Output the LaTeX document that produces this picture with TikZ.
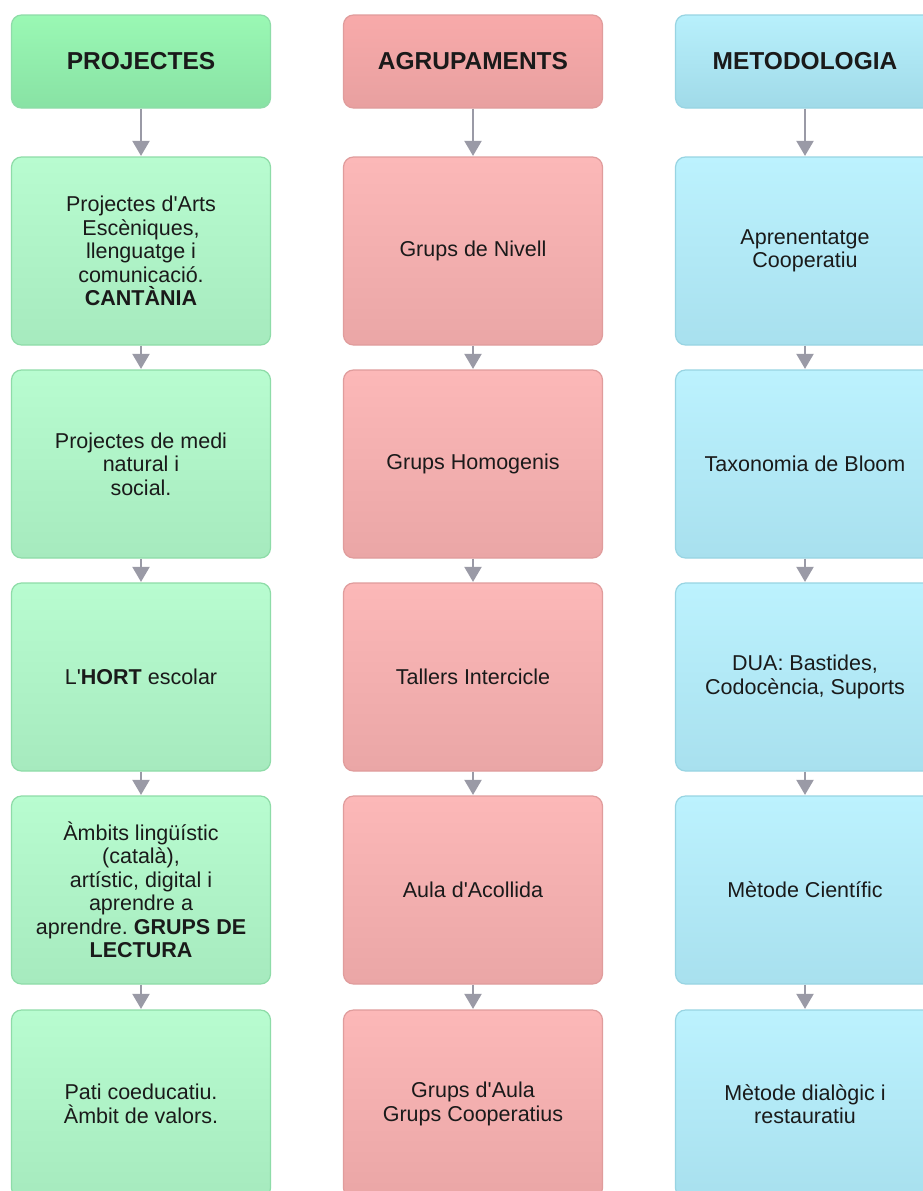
\documentclass[tikz,border=0pt]{standalone}
\usepackage{fontspec}
\newfontfamily\mainf{Liberation Sans}
\usetikzlibrary{arrows.meta}
\frenchspacing
\definecolor{gH1}{HTML}{9AF8B4}\definecolor{gH2}{HTML}{88E2A4}
\definecolor{gB1}{HTML}{B8FCD0}\definecolor{gB2}{HTML}{A6EABE}
\definecolor{gD}{HTML}{8EDCA8}
\definecolor{rH1}{HTML}{F8AAAA}\definecolor{rH2}{HTML}{E8A0A0}
\definecolor{rB1}{HTML}{FCB8B8}\definecolor{rB2}{HTML}{EAA6A6}
\definecolor{rD}{HTML}{E09C9C}
\definecolor{bH1}{HTML}{B8F0FC}\definecolor{bH2}{HTML}{A0DAE8}
\definecolor{bB1}{HTML}{BCF2FE}\definecolor{bB2}{HTML}{A8E0EE}
\definecolor{bD}{HTML}{98D4E2}
\definecolor{arr}{HTML}{9A9AA6}
\definecolor{txt}{HTML}{1A1A1A}
\tikzset{
  box/.style={rounded corners=10pt, line width=1.2pt, minimum width=259pt, align=center, text=txt,
    font=\mainf\frenchspacing\fontsize{21.5}{23.5}\selectfont},
  head/.style={box, minimum height=93pt, font=\mainf\bfseries\fontsize{24.5}{28}\selectfont},
  body/.style={box, minimum height=188pt},
  grH/.style={head, draw=gD, top color=gH1, bottom color=gH2},
  grB/.style={body, draw=gD, top color=gB1, bottom color=gB2},
  reH/.style={head, draw=rD, top color=rH1, bottom color=rH2},
  reB/.style={body, draw=rD, top color=rB1, bottom color=rB2},
  blH/.style={head, draw=bD, top color=bH1, bottom color=bH2},
  blB/.style={body, draw=bD, top color=bB1, bottom color=bB2},
  conn/.style={draw=arr, line width=2pt, -{Triangle[width=17pt,length=15pt]}, shorten >=0.5pt}
}
\begin{document}
\begin{tikzpicture}[x=1pt,y=-1pt]
\useasboundingbox (0,0) rectangle (923,1191);
\clip (0,0) rectangle (923,1191);
\fill[white] (0,0) rectangle (923,1191);
% column 1
\node[grH] (p0) at (141,61.5) {PROJECTES};
\node[grB] (p1) at (141,251) {Projectes d'Arts\\Escèniques,\\llenguatge i\\comunicació.\\\textbf{CANTÀNIA}};
\node[grB] (p2) at (141,464) {Projectes de medi\\natural i\\social.};
\node[grB] (p3) at (141,677) {L'\textbf{HORT} escolar};
\node[grB] (p4) at (141,890) {Àmbits lingüístic\\(català),\\artístic, digital i\\aprendre a\\aprendre. \textbf{GRUPS DE}\\\textbf{LECTURA}};
\node[grB] (p5) at (141,1104) {Pati coeducatiu.\\Àmbit de valors.};
% column 2
\node[reH] (a0) at (473,61.5) {AGRUPAMENTS};
\node[reB] (a1) at (473,251) {Grups de Nivell};
\node[reB] (a2) at (473,464) {Grups Homogenis};
\node[reB] (a3) at (473,677) {Tallers Intercicle};
\node[reB] (a4) at (473,890) {Aula d'Acollida};
\node[reB] (a5) at (473,1104) {Grups d'Aula\\Grups Cooperatius};
% column 3
\node[blH] (m0) at (805,61.5) {METODOLOGIA};
\node[blB] (m1) at (805,251) {Aprenentatge\\Cooperatiu};
\node[blB] (m2) at (805,464) {Taxonomia de Bloom};
\node[blB] (m3) at (805,677) {DUA: Bastides,\\Codocència, Suports};
\node[blB] (m4) at (805,890) {Mètode Científic};
\node[blB] (m5) at (805,1104) {Mètode dialògic i\\restauratiu};
% connectors
\foreach \c in {p,a,m}{
  \draw[conn] (\c0) -- (\c1);
  \draw[conn] (\c1) -- (\c2);
  \draw[conn] (\c2) -- (\c3);
  \draw[conn] (\c3) -- (\c4);
  \draw[conn] (\c4) -- (\c5);
}
\end{tikzpicture}
\end{document}
